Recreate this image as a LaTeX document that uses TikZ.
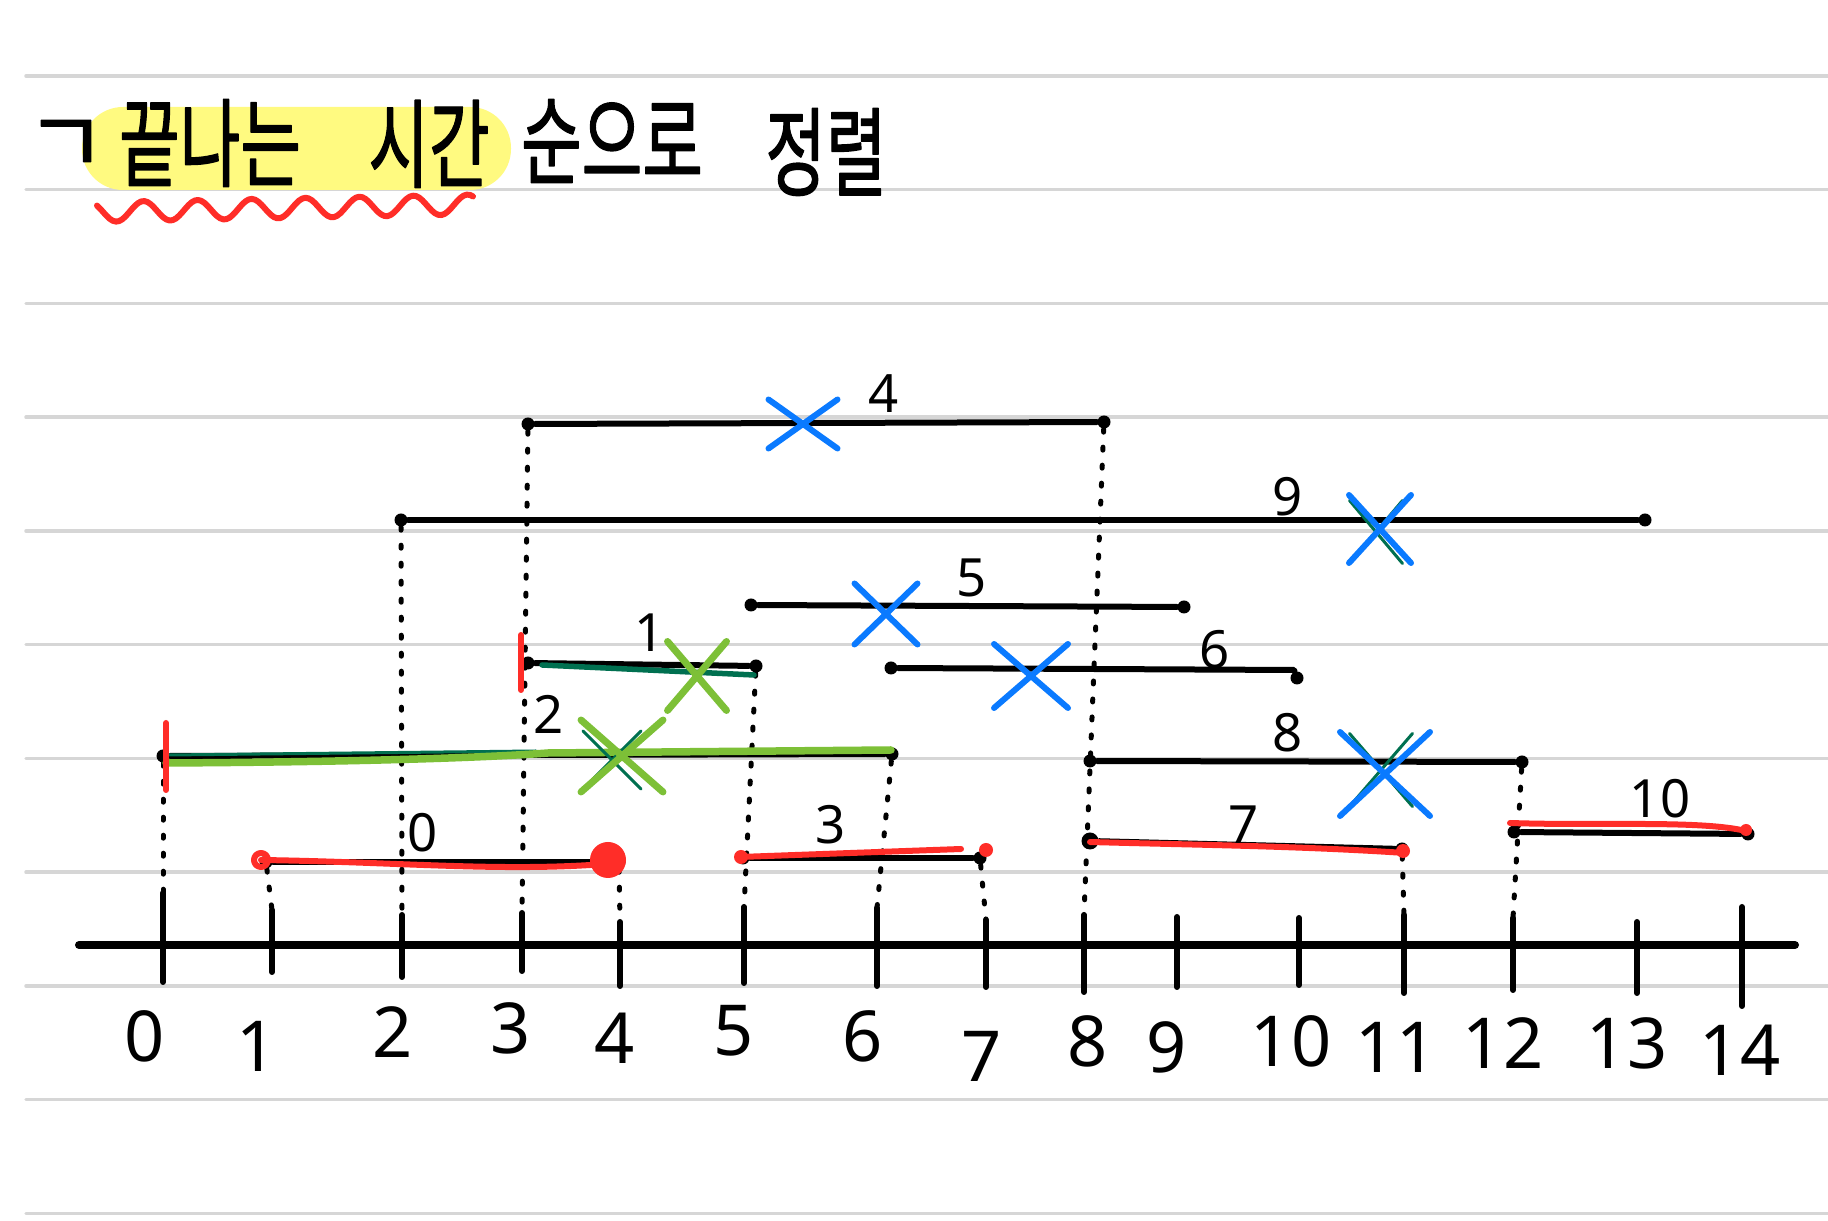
\documentclass[tikz,border=0pt]{standalone}
\usepackage{fontspec}
\setmainfont{Noto Sans}
\newfontfamily\krfont{Noto Sans CJK KR}[FakeBold=1.5]
\usetikzlibrary{shapes.misc}

\definecolor{hlyellow}{RGB}{255,250,128}
\definecolor{penred}{RGB}{255,45,40}
\definecolor{penblue}{RGB}{10,122,255}
\definecolor{pengreen}{RGB}{125,192,55}
\definecolor{pendkgreen}{RGB}{0,112,80}
\definecolor{ruleline}{RGB}{214,214,214}

\begin{document}
\begin{tikzpicture}[x=0.1mm, y=-0.1mm, line cap=round, line join=round,
  rule/.style={draw=ruleline, line width=0.35mm},
  seg/.style={line width=0.6mm},
  dot/.style={circle, fill, inner sep=0pt, minimum size=1.3mm},
  dots/.style={line width=0.5mm, dash pattern=on 0.3mm off 1.5mm},
  redpen/.style={draw=penred, line width=0.6mm},
  greenpen/.style={draw=pengreen, line width=0.75mm},
  xmark/.style={cross out, draw, line width=0.6mm, inner sep=0pt},
  lbl/.style={font=\fontsize{15}{15}\selectfont},
  num/.style={font=\fontsize{20}{20}\selectfont},
  title/.style={font=\krfont\fontsize{25}{25}\selectfont}]

  \path[fill=white, use as bounding box] (0,0) rectangle (1828,1221);
  \foreach \i in {0,...,10}
    \draw[rule] (26,{76+113.75*\i}) -- (1828,{76+113.75*\i});

  \fill[hlyellow, rounded corners=4.1mm] (82,107) rectangle (511,190);
  \node[title] (bullet) at (66,147) {ㄱ};
  \node[title] (w1) at (210,143) {\scalebox{.75}[1.1]{끝나는}};
  \node[title] (w2) at (429,144) {\scalebox{.75}[1.1]{시간}};
  \node[title] (w3) at (612,141) {\scalebox{.75}[1.1]{순으로}};
  \node[title] (w4) at (826,152) {\scalebox{.75}[1.1]{정렬}};
  \draw[redpen] plot[domain=97:473, samples=120]
    (\x, {212-0.02*(\x-97)+10*sin(6.6667*(\x-103))});

  \node[dot] (s0) at (266,862) {};  \node[dot] (e0) at (619,862) {};
  \node[dot] (s1) at (528,663) {};  \node[dot] (e1) at (756,666) {};
  \node[dot] (s2) at (163,756) {};  \node[dot] (e2) at (892,754) {};
  \node[dot] (s3) at (743,858) {};  \node[dot] (e3) at (980,858) {};
  \node[dot] (s4) at (528,424) {};  \node[dot] (e4) at (1104,422) {};
  \node[dot] (s5) at (751,605) {};  \node[dot] (e5) at (1184,607) {};
  \node[dot] (s6) at (891,668) {};  \node[dot] (e6) at (1297,678) {};
  \node[dot, minimum size=1.7mm] (s7) at (1090,841) {};  \node[dot] (e7) at (1402,849) {};
  \node[dot] (s8) at (1090,761) {};  \node[dot] (e8) at (1522,762) {};
  \node[dot] (s9) at (401,520) {};  \node[dot] (e9) at (1645,520) {};
  \node[dot] (s10) at (1514,832) {}; \node[dot] (e10) at (1748,834) {};
  \foreach \i in {0,1,2,3,4,5,7,8,9,10}
    \draw[seg] (s\i) -- (e\i);
  \draw[seg] (s6) -- (1294,670) -- (e6);

  \foreach \x/\a/\b/\lx/\ly [count=\i from 0] in
    {163/893/982/145/1036, 272/910/972/257/1046, 402/915/977/393/1032,
     522/913/971/511/1028, 620/922/986/615/1038, 744/907/983/734/1031,
     877/908/986/863/1036, 986/920/987/982/1056, 1084/915/992/1088/1041,
     1177/917/987/1167/1047, 1299/918/985/1291/1041, 1404/915/993/1396/1047,
     1513/918/990/1503/1043, 1637/922/993/1627/1043, 1742/907/1006/1740/1050}
  {
    \coordinate (k\i) at (\x,\a);
    \draw[seg] (k\i) -- (\x,\b);
    \node[num] (n\i) at (\lx,\ly) {\i};
  }
  \draw[line width=0.8mm] (79,945) -- (1795,945);

  \draw[dots] (s2) -- (k0);
  \draw[dots] (s0) -- (k1);
  \draw[dots] (s9) -- (k2);
  \draw[dots] (s4) -- (k3);
  \draw[dots] (e0) -- (k4);
  \draw[dots] (e1) -- (k5);
  \draw[dots] (e2) -- (k6);
  \draw[dots] (e3) -- (k7);
  \draw[dots] (e4) -- (k8);
  \draw[dots] (e7) -- (k11);
  \draw[dots] (e8) -- (k12);

  \draw[draw=pendkgreen, line width=0.55mm] (542,665) -- (754,675);
  \draw[draw=pendkgreen, line width=0.3mm] (169,755) -- (536,751);
  \draw[greenpen] (166,763) .. controls (350,762) and (480,758) .. (548,753) -- (891,750);
  \draw[redpen] (521,635) -- (521,690);
  \draw[redpen] (166,723) -- (166,790);

  \draw[redpen] (261,860) .. controls (400,862) and (500,872) .. (605,864);
  \draw[redpen] (261,860) circle (0.7mm);
  \fill[penred] (608,860) circle (1.8mm);
  \draw[redpen] (740,857) -- (961,849);
  \fill[penred] (741,857) circle (0.7mm);
  \fill[penred] (986,850) circle (0.7mm);
  \draw[redpen] (1090,842) .. controls (1200,845) and (1300,846) .. (1405,853);
  \fill[penred] (1403,851) circle (0.7mm);
  \draw[redpen] (1510,823) .. controls (1600,826) and (1700,820) .. (1746,831);
  \fill[penred] (1746,830) circle (0.6mm);

  \node[xmark, pendkgreen, line width=0.3mm, minimum width=5mm, minimum height=6mm] (g9) at (1376,532) {};
  \node[xmark, pendkgreen, line width=0.3mm, minimum width=6mm, minimum height=7mm] (g8) at (1381,770) {};
  \node[xmark, pendkgreen, line width=0.3mm, minimum width=5.5mm, minimum height=5.5mm] (g2) at (612,760) {};
  \node[xmark, penblue, minimum width=6.3mm, minimum height=4.3mm] (x4) at (803,424) {};
  \node[xmark, penblue, minimum width=5.6mm, minimum height=6.2mm] (x9) at (1380,529) {};
  \node[xmark, penblue, minimum width=5.7mm, minimum height=5.5mm] (x5) at (886,614) {};
  \node[xmark, penblue, minimum width=6.8mm, minimum height=5.8mm] (x6) at (1031,676) {};
  \node[xmark, penblue, minimum width=8.4mm, minimum height=7.8mm] (x8) at (1385,774) {};
  \node[xmark, pengreen, line width=0.7mm, minimum width=5.2mm, minimum height=6.2mm] (x1) at (697,676) {};
  \node[xmark, pengreen, line width=0.7mm, minimum width=7.5mm, minimum height=6.5mm] (x2) at (622,756) {};

  \node[lbl] (l0) at (423,833) {0};
  \node[lbl] (l1) at (650,633) {1};
  \node[lbl] (l2) at (549,714) {2};
  \node[lbl] (l3) at (831,825) {3};
  \node[lbl] (l4) at (884,394) {4};
  \node[lbl] (l5) at (972,578) {5};
  \node[lbl] (l6) at (1215,650) {6};
  \node[lbl] (l7) at (1244,825) {7};
  \node[lbl] (l8) at (1288,733) {8};
  \node[lbl] (l9) at (1288,497) {9};
  \node[lbl] (l10) at (1660,799) {10};
\end{tikzpicture}
\end{document}
